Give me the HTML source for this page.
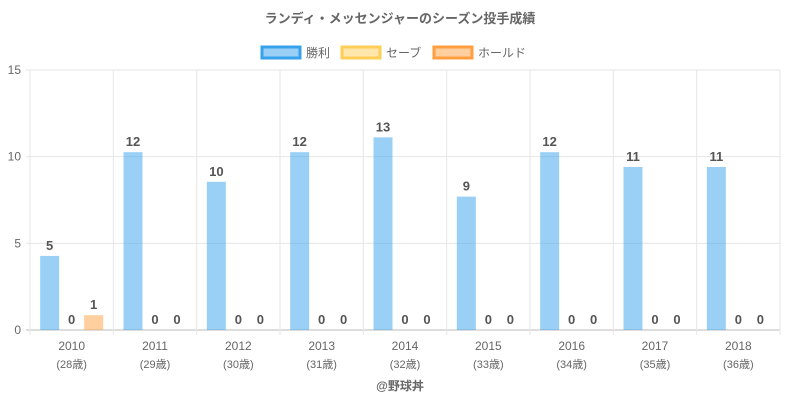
<!DOCTYPE html>
<html><head><meta charset="utf-8"><style>
body{margin:0;background:#fff;font-family:"Liberation Sans","Noto Sans CJK JP",sans-serif}
svg text{font-family:"Liberation Sans","Noto Sans CJK JP",sans-serif}
</style></head><body>
<svg id="c" width="800" height="400" xmlns="http://www.w3.org/2000/svg">
<text x="400" y="23" text-anchor="middle" font-size="13" font-weight="bold" fill="#666">ランディ・メッセンジャーのシーズン投手成績</text>
<g>
<g><rect x="262" y="47" width="38" height="11" fill="rgba(54,162,235,0.5)" stroke="#36a2eb" stroke-width="3"/><text x="306" y="57" font-size="12" fill="#666">勝利</text></g>
<g><rect x="342" y="47" width="38" height="11" fill="rgba(255,206,86,0.5)" stroke="#ffce56" stroke-width="3"/><text x="386" y="57" font-size="12" fill="#666">セーブ</text></g>
<g><rect x="434" y="47" width="38" height="11" fill="rgba(255,159,64,0.5)" stroke="#ff9f40" stroke-width="3"/><text x="478" y="57" font-size="12" fill="#666">ホールド</text></g>
</g>
<g id="grid"></g><g id="bars"></g>
<text x="400" y="390" text-anchor="middle" font-size="12" font-weight="bold" fill="#666">@野球丼</text>
</svg>
<script>
const years=["2010","2011","2012","2013","2014","2015","2016","2017","2018"];
const ages=["(28歳)","(29歳)","(30歳)","(31歳)","(32歳)","(33歳)","(34歳)","(35歳)","(36歳)"];
const wins=[5,12,10,12,13,9,12,11,11];
const saves=[0,0,0,0,0,0,0,0,0];
const holds=[1,0,0,0,0,0,0,0,0];
const yTicks=[0,5,10,15];
const progress=0.855;
const L=30,R=780,T=70,B=330,yMax=15;
const NS="http://www.w3.org/2000/svg";
const cw=(R-L)/years.length;
const y=v=>B-(v/yMax)*(B-T);
const xc=i=>L+cw*(i+0.5);
function mk(tag,at,p){const e=document.createElementNS(NS,tag);for(const k in at)e.setAttribute(k,at[k]);p.appendChild(e);return e;}
const g=document.getElementById('grid'),bg=document.getElementById('bars');
yTicks.forEach(t=>{
 const l=mk('line',{x1:26,x2:R,y1:y(t),y2:y(t),stroke:t===0?'#bbb':'#e6e6e6'},g);
 
 
 const tx=mk('text',{x:21,y:y(t)+4,'text-anchor':'end','font-size':12,fill:'#666'},g);
 tx.textContent=t;
 
 
});
for(let i=0;i<=years.length;i++){
 const x=L+cw*i;
 const l=mk('line',{x1:x,x2:x,y1:T,y2:B+5,stroke:'#e6e6e6'},g);
 
 
}
years.forEach((yr,i)=>{
 const t1=mk('text',{x:xc(i),y:350,'text-anchor':'middle','font-size':12,fill:'#666'},g);
 t1.textContent=yr;
 
 
 const t2=mk('text',{x:xc(i),y:368,'text-anchor':'middle','font-size':11,fill:'#666'},g);
 t2.textContent=ages[i];
 
 
});
const series=[[wins,'rgba(54,162,235,0.5)',-22,'bar-wins'],[saves,'rgba(255,206,86,0.5)',0,'bar-saves'],[holds,'rgba(255,159,64,0.5)',22,'bar-holds']];
series.forEach(([vals,col,off,nm])=>{
 vals.forEach((v,i)=>{
  const cx=xc(i)+off,top=y(v*progress);
  const r=mk('rect',{x:cx-9.5,y:top,width:19,height:B-top,fill:col},bg);
  
  
  const t=mk('text',{x:cx,y:top-6,'text-anchor':'middle','font-size':13,'font-weight':'bold',fill:'#555'},bg);
  t.textContent=v;
  
  
 });
});
</script>
</body></html>
